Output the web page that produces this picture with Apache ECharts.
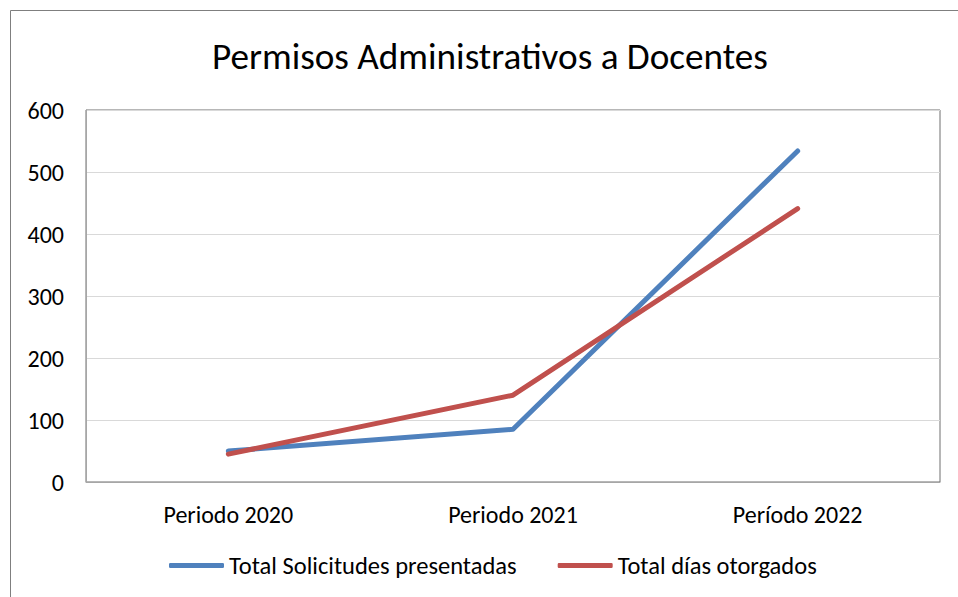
<!DOCTYPE html>
<html>
<head>
<meta charset="utf-8">
<script src="https://cdn.jsdelivr.net/npm/echarts@6/dist/echarts.min.js"></script>
<style>
  html, body { margin: 0; padding: 0; background: #fff; }
  #chart { width: 958px; height: 597px; }
</style>
</head>
<body>
<div id="chart"></div>
<script>
const categories = ["Periodo 2020", "Periodo 2021", "Período 2022"];
const solicitudes = [50, 85, 534];
const diasOtorgados = [45, 140, 441];
const seriesNames = ["Total Solicitudes presentadas", "Total días otorgados"];

const font = "Carlito, Calibri, Lato, 'Open Sans', sans-serif";

const chart = echarts.init(document.getElementById("chart"), null, { renderer: "svg" });

chart.setOption({
  animation: false,
  backgroundColor: "#fff",
  textStyle: { fontFamily: font },
  graphic: [{
    type: "rect",
    shape: { x: 10.5, y: 10.5, width: 960, height: 600 },
    style: { fill: "none", stroke: "#7f7f7f", lineWidth: 1 },
    silent: true
  }],
  title: {
    text: "Permisos Administrativos a Docentes",
    left: 207,
    top: 33,
    textStyle: { fontFamily: font, fontSize: 37.2, fontWeight: "normal", color: "#000" }
  },
  legend: {
    top: 548,
    left: 164,
    itemWidth: 55,
    itemHeight: 5,
    itemGap: 41,
    icon: "roundRect",
    textStyle: { fontFamily: font, fontSize: 24.5, color: "#000" },
    data: seriesNames
  },
  grid: {
    left: 86,
    right: 18,
    top: 110,
    bottom: 115,
    show: true,
    borderColor: "#6f6f6f",
    borderWidth: 1
  },
  xAxis: {
    type: "category",
    data: categories,
    boundaryGap: true,
    axisLine: { show: true, lineStyle: { color: "#a6a6a6" } },
    axisTick: { show: false },
    axisLabel: { margin: 20, fontFamily: font, fontSize: 24, color: "#000" }
  },
  yAxis: {
    type: "value",
    min: 0,
    max: 600,
    interval: 100,
    axisLine: { show: true, lineStyle: { color: "#a6a6a6" } },
    axisTick: { show: false },
    axisLabel: { margin: 22, fontFamily: font, fontSize: 24, color: "#000" },
    splitLine: { lineStyle: { color: "#d9d9d9", width: 1 } }
  },
  series: [
    {
      name: seriesNames[0],
      type: "line",
      data: solicitudes,
      symbol: "none",
      color: "#4f81bd",
      lineStyle: { width: 5, color: "#4f81bd", cap: "round", join: "round" }
    },
    {
      name: seriesNames[1],
      type: "line",
      data: diasOtorgados,
      symbol: "none",
      color: "#c0504d",
      lineStyle: { width: 5, color: "#c0504d", cap: "round", join: "round" }
    }
  ]
});
</script>
</body>
</html>
